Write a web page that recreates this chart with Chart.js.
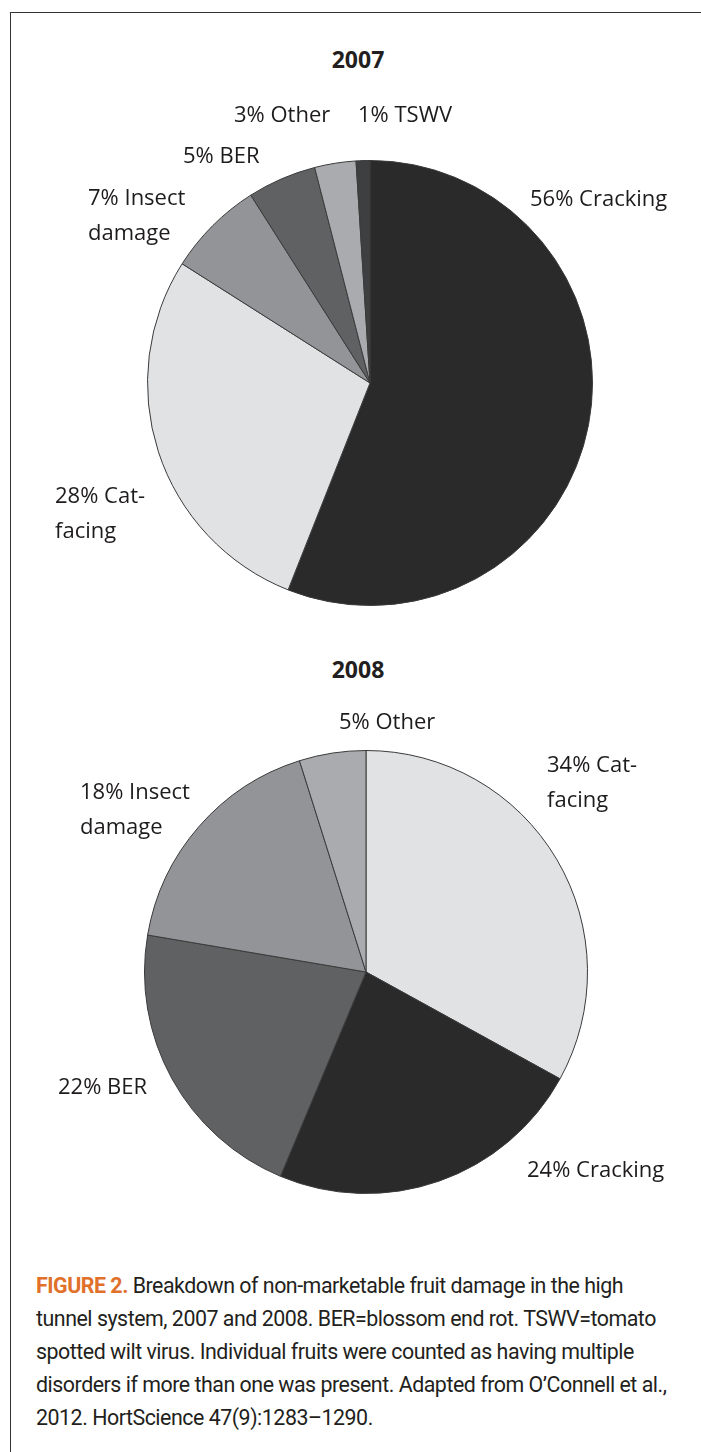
<!DOCTYPE html>
<html>
<head>
<meta charset="utf-8">
<script src="https://cdn.jsdelivr.net/npm/chart.js@4"></script>
<style>
  html, body { margin: 0; padding: 0; background: #fff; }
  body { width: 701px; height: 1452px; position: relative; overflow: hidden; font-family: 'Open Sans', sans-serif; color: #231f20; }
  .frame { position: absolute; left: 10px; top: 12px; right: -2px; bottom: -2px; border-top: 1.5px solid #333; border-left: 1.5px solid #333; }
  .year { position: absolute; left: 0; width: 716px; text-align: center; font-weight: bold; font-size: 23px; line-height: 30px; }
  .pie-wrap { position: absolute; left: 0; width: 701px; }
  .caption { position: absolute; left: 36px; top: 1269px; font-family: Roboto, sans-serif; font-size: 22.5px; line-height: 33px; letter-spacing: -0.5px; white-space: nowrap; color: #231f20; transform: scaleX(0.95); transform-origin: left top; }
  .caption b { color: #e0702a; font-weight: 700; }
</style>
</head>
<body>
<div class="frame"></div>
<div class="year" style="top:44px">2007</div>
<div class="pie-wrap" style="top:80px;height:560px"><canvas id="pie2007"></canvas></div>
<div class="year" style="top:654px">2008</div>
<div class="pie-wrap" style="top:690px;height:540px"><canvas id="pie2008"></canvas></div>
<div class="caption"><b>FIGURE 2.</b> Breakdown of non-marketable fruit damage in the high<br>tunnel system, 2007 and 2008. BER=blossom end rot. TSWV=tomato<br>spotted wilt virus. Individual fruits were counted as having multiple<br>disorders if more than one was present. Adapted from O’Connell et al.,<br>2012. HortScience 47(9):1283–1290.</div>

<script>
// 2007 data, clockwise from 12 o'clock
const CATS_2007 = ['Cracking', 'Cat-facing', 'Insect damage', 'BER', 'Other', 'TSWV'];
const VALUES_2007 = [56, 28, 7, 5, 3, 1];
const LABELS_2007 = [['56% Cracking'], ['28% Cat-', 'facing'], ['7% Insect', 'damage'], ['5% BER'], ['3% Other'], ['1% TSWV']];

// 2008 data
const CATS_2008 = ['Cat-facing', 'Cracking', 'BER', 'Insect damage', 'Other'];
const VALUES_2008 = [34, 24, 22, 18, 5];
const LABELS_2008 = [['34% Cat-', 'facing'], ['24% Cracking'], ['22% BER'], ['18% Insect', 'damage'], ['5% Other']];

const SHADES = {
  'Cracking': '#2a2a2a',
  'Cat-facing': '#e1e2e4',
  'Insect damage': '#939497',
  'BER': '#606163',
  'Other': '#aaabae',
  'TSWV': '#3e3f41',
};

// label anchor (left edge, first line middle) relative to pie centre, px
const OFFSETS_2007 = [[160, -183], [-315, 114], [-282, -184], [-187, -226], [-136, -267], [-12, -267]];
const OFFSETS_2008 = [[181, -206], [161, 199], [-308, 116], [-286, -179], [-27, -249]];

const sliceLabels = {
  id: 'sliceLabels',
  afterDraw(chart, args, opts) {
    const arc = chart.getDatasetMeta(0).data[0];
    if (!arc) return;
    const ctx = chart.ctx;
    ctx.save();
    ctx.font = '22px "Open Sans", sans-serif';
    ctx.fillStyle = '#1e1b1c';
    ctx.textAlign = 'left';
    ctx.textBaseline = 'middle';
    opts.lines.forEach((lines, i) => {
      const [dx, dy] = opts.offsets[i];
      lines.forEach((txt, j) => {
        ctx.fillText(txt, arc.x + dx, arc.y + dy + j * 35);
      });
    });
    ctx.restore();
  },
};

function makePie(id, cats, values, lines, offsets, padding) {
  return new Chart(document.getElementById(id), {
    type: 'pie',
    data: {
      labels: cats,
      datasets: [{
        data: values,
        backgroundColor: cats.map(c => SHADES[c]),
        borderColor: '#3a3a3a',
        borderWidth: 1,
      }],
    },
    options: {
      responsive: true,
      maintainAspectRatio: false,
      animation: false,
      layout: { padding },
      plugins: {
        legend: { display: false },
        tooltip: { enabled: false },
        sliceLabels: { lines, offsets },
      },
    },
    plugins: [sliceLabels],
  });
}

makePie('pie2007', CATS_2007, VALUES_2007, LABELS_2007, OFFSETS_2007,
  { left: 147, right: 108, top: 80, bottom: 34 });
makePie('pie2008', CATS_2008, VALUES_2008, LABELS_2008, OFFSETS_2008,
  { left: 144, right: 113, top: 60, bottom: 36 });
</script>
</body>
</html>
